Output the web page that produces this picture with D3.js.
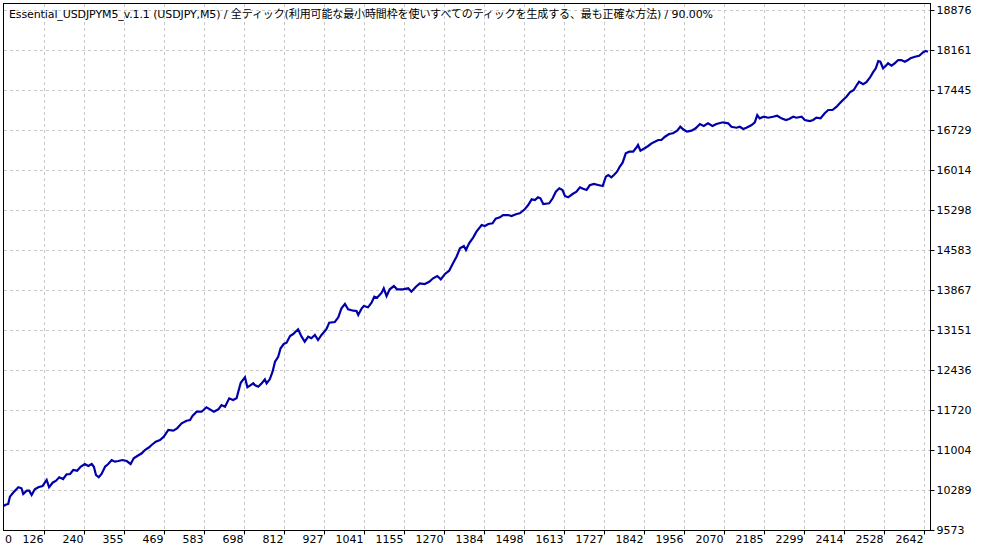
<!DOCTYPE html>
<html>
<head>
<meta charset="utf-8">
<script src="https://cdn.jsdelivr.net/npm/d3@7"></script>
<style>
  html, body { margin: 0; padding: 0; background: #ffffff; }
  svg { display: block; }
</style>
</head>
<body>
<svg id="chart" width="985" height="550"></svg>
<script>
const title = "Essential_USDJPYM5_v.1.1 (USDJPY,M5) / 全ティック(利用可能な最小時間枠を使いすべてのティックを生成する、最も正確な方法) / 90.00%";

const xTickLabels = [0, 126, 240, 355, 469, 583, 698, 812, 927, 1041, 1155, 1270, 1384, 1498, 1613, 1727, 1842, 1956, 2070, 2185, 2299, 2414, 2528, 2642];
const yTickLabels = [9573, 10289, 11004, 11720, 12436, 13151, 13867, 14583, 15298, 16014, 16729, 17445, 18161, 18876];
const xEnd = 2659;

const trades = [
  11, 14, 23, 28, 37, 52, 61, 66, 76, 83,
  90, 99, 109, 121, 133, 140, 150, 160, 169, 180,
  190, 200, 209, 220, 230, 242, 252, 262, 268, 274,
  282, 290, 300, 309, 319, 328, 338, 350, 362, 373,
  382, 392, 405, 414, 426, 433, 445, 457, 468, 481,
  495, 506, 519, 533, 543, 550, 562, 576, 590, 600,
  611, 624, 633, 643, 655, 666, 676, 681, 688, 700,
  707,
  724, 728, 738, 748, 757, 762, 771, 779, 786, 795,
  802, 811, 819, 829, 838, 852, 862, 871, 881, 890,
  900, 909, 919, 933, 941, 957, 967, 976, 986, 995,
  1010, 1019, 1024, 1034, 1040, 1052, 1062, 1070, 1078, 1091,
  1097, 1105, 1114, 1126, 1135, 1152, 1167, 1176, 1189, 1200,
  1214, 1227, 1238, 1250, 1260, 1272, 1284, 1295, 1305, 1315,
  1326, 1332, 1341, 1353, 1362,
  1377, 1386, 1396, 1408, 1417, 1429, 1438, 1453, 1462, 1477,
  1486, 1500, 1510, 1520, 1529, 1538, 1545, 1553, 1570, 1580,
  1589, 1599, 1608, 1615, 1624, 1637, 1648, 1658, 1667, 1677,
  1686, 1698, 1710, 1723, 1732, 1739, 1748, 1755, 1764, 1772,
  1780, 1789, 1799, 1810, 1820, 1824, 1831, 1843, 1853, 1863,
  1872, 1882, 1891, 1901, 1913, 1924, 1936, 1945, 1953, 1964,
  1977, 1989, 2001, 2012, 2024, 2037, 2048,
  2067, 2082, 2091, 2106, 2115, 2125, 2134, 2149, 2158, 2165,
  2172, 2184, 2196, 2210, 2222, 2234, 2247, 2256, 2268, 2277,
  2292, 2301, 2315, 2325, 2334, 2346, 2358, 2368, 2380, 2392,
  2401, 2410, 2420, 2430, 2441, 2451, 2456, 2468, 2477, 2487,
  2496, 2504, 2511, 2517, 2525, 2533, 2539, 2549, 2558, 2568,
  2577, 2587, 2596, 2603, 2616, 2628, 2639, 2647, 2653
];

const balance = [
  10000, 10020, 10038, 10169, 10240, 10337, 10319, 10217, 10276, 10276,
  10199, 10301, 10337, 10360, 10468, 10337, 10419, 10455, 10516, 10485,
  10569, 10575, 10646, 10634, 10705, 10754, 10718, 10754, 10705, 10557,
  10516, 10575, 10705, 10754, 10825, 10795, 10807, 10825, 10807, 10754,
  10856, 10897, 10945, 11004, 11053, 11094, 11153, 11183, 11242, 11362,
  11350, 11392, 11482, 11528, 11541, 11612, 11689, 11689, 11768, 11732,
  11689, 11732, 11809, 11779, 11929, 11899, 11929, 12047, 12208, 12305,
  12126,
  12197, 12167, 12137, 12197, 12269, 12197, 12269, 12405, 12584, 12673,
  12824, 12901, 12924, 13044, 13079, 13164, 13031, 12942, 13031, 13003,
  13062, 12972, 13062, 13164, 13282, 13294, 13378, 13539, 13616, 13521,
  13496, 13491, 13419, 13539, 13580, 13557, 13639, 13747, 13729, 13818,
  13897, 13759, 13879, 13938, 13879, 13879, 13897, 13836, 13926, 13986,
  13974, 14015, 14076, 14117, 14058, 14153, 14212, 14344, 14462, 14613,
  14654, 14582, 14702, 14809, 14910,
  15029, 15012, 15047, 15060, 15142, 15167, 15208, 15208, 15190, 15226,
  15239, 15310, 15387, 15489, 15477, 15525, 15507, 15405, 15418, 15507,
  15625, 15686, 15656, 15548, 15525, 15584, 15625, 15704, 15679, 15656,
  15740, 15763, 15745, 15727, 15894, 15924, 15883, 15924, 15983, 16073,
  16144, 16312, 16341, 16341, 16420, 16461, 16359, 16402, 16443, 16491,
  16520, 16550, 16550, 16609, 16657, 16670, 16717, 16788, 16742, 16699,
  16717, 16760, 16836, 16801, 16849, 16801, 16836,
  16867, 16849, 16788, 16770, 16788, 16747, 16770, 16818, 16867, 16997,
  16938, 16967, 16949, 16967, 16985, 16938, 16908, 16926, 16967, 16949,
  16967, 16908, 16890, 16908, 16949, 16938, 17028, 17087, 17087, 17146,
  17207, 17266, 17325, 17404, 17445, 17547, 17593, 17547, 17583, 17665,
  17761, 17833, 17963, 17951, 17833, 17879, 17922, 17879, 17922, 17981,
  17981, 17951, 17981, 18012, 18040, 18058, 18119, 18142, 18130
];

const data = trades.map((t, i) => ({ t: t, v: balance[i] }));

const W = 985, H = 550;
const plot = { left: 4, right: 930, top: 4, bottom: 530 };

const svg = d3.select("#chart");
svg.append("rect").attr("width", W).attr("height", H).attr("fill", "#ffffff");

const x = d3.scaleLinear().domain([trades[0], xEnd]).range([plot.left, plot.right]);
const y = d3.scaleLinear().domain([yTickLabels[0], yTickLabels[yTickLabels.length - 1]]).range([plot.bottom, 10]);

const font = "'DejaVu Sans', 'Noto Sans CJK JP', sans-serif";
const gridColor = "#c8c8c8";
const snap = v => Math.round(v) + 0.5;

const xTicksIn = xTickLabels.filter(v => v >= trades[0]);

// grid
const grid = svg.append("g");
grid.selectAll("line.vg").data(xTicksIn).enter().append("line")
  .attr("x1", d => snap(x(d))).attr("x2", d => snap(x(d)))
  .attr("y1", plot.top).attr("y2", plot.bottom)
  .attr("stroke", gridColor).attr("stroke-width", 1).attr("stroke-dasharray", "3,3");
grid.selectAll("line.hg").data(yTickLabels.slice(1)).enter().append("line")
  .attr("y1", d => snap(y(d))).attr("y2", d => snap(y(d)))
  .attr("x1", plot.left).attr("x2", plot.right)
  .attr("stroke", gridColor).attr("stroke-width", 1).attr("stroke-dasharray", "3,3");

// balance line
const line = d3.line().x(d => x(d.t)).y(d => y(d.v));
svg.append("path").datum(data)
  .attr("d", line)
  .attr("fill", "none")
  .attr("stroke", "#0000aa")
  .attr("stroke-width", 2.2)
  .attr("stroke-linejoin", "miter");

// frame
svg.append("rect")
  .attr("x", plot.left - 0.5).attr("y", plot.top - 0.5)
  .attr("width", plot.right - plot.left + 1).attr("height", plot.bottom - plot.top + 1)
  .attr("fill", "none").attr("stroke", "#000").attr("stroke-width", 1);

// x axis
const xAxis = d3.axisBottom(x).tickValues(xTicksIn).tickSize(4).tickPadding(3).tickFormat(d3.format("d"));
const gx = svg.append("g").attr("transform", `translate(0,${plot.bottom + 0.5})`).call(xAxis);
gx.select(".domain").remove();
gx.selectAll(".tick").attr("transform", d => `translate(${snap(x(d))},0)`);
gx.selectAll(".tick line").attr("stroke", "#000");
gx.selectAll(".tick text")
  .attr("text-anchor", "end").attr("x", -1).attr("y", 5).attr("dy", "0.71em")
  .attr("fill", "#000").style("font-family", font).style("font-size", "11px");
svg.append("text")
  .attr("x", plot.left + 1).attr("y", plot.bottom + 5.5).attr("dy", "0.71em")
  .attr("fill", "#000").style("font-family", font).style("font-size", "11px")
  .text(xTickLabels[0]);

// y axis
const yAxis = d3.axisRight(y).tickValues(yTickLabels).tickSize(4).tickPadding(2).tickFormat(d3.format("d"));
const gy = svg.append("g").attr("transform", `translate(${plot.right + 0.5},0)`).call(yAxis);
gy.select(".domain").remove();
gy.selectAll(".tick").attr("transform", d => `translate(0,${snap(y(d))})`);
gy.selectAll(".tick line").attr("stroke", "#000");
gy.selectAll(".tick text").attr("fill", "#000").style("font-family", font).style("font-size", "11px");

// title
svg.append("text")
  .attr("x", 9).attr("y", 18)
  .attr("fill", "#000")
  .attr("textLength", 704).attr("lengthAdjust", "spacing")
  .style("font-family", font).style("font-size", "11px")
  .text(title);
</script>
</body>
</html>
